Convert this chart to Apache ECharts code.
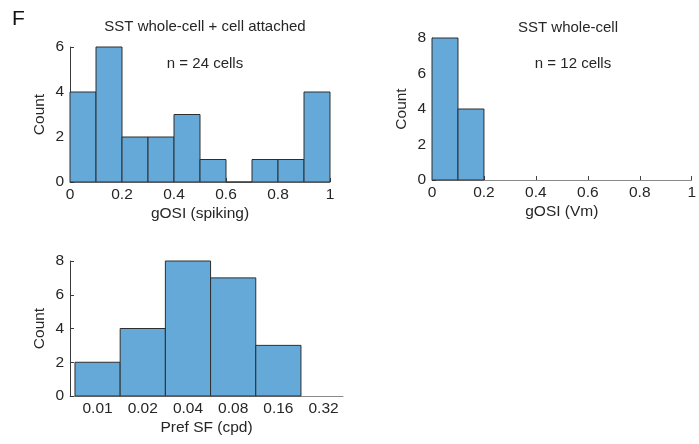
<!DOCTYPE html>
<html>
<head>
<meta charset="utf-8">
<script src="https://cdn.jsdelivr.net/npm/echarts@6/dist/echarts.min.js"></script>
<style>
html,body{margin:0;padding:0;background:#fff;}
#chart{width:699px;height:444px;}
</style>
</head>
<body>
<div id="chart"></div>
<script>
// ---- data ----
const gosiEdges = [0, 0.1, 0.2, 0.3, 0.4, 0.5, 0.6, 0.7, 0.8, 0.9, 1.0];
const spikingCounts = [4, 6, 2, 2, 3, 1, 0, 1, 1, 4];
const vmCounts = [8, 4];
const sfLabels = ['0.01', '0.02', '0.04', '0.08', '0.16', '0.32'];
const sfCounts = [2, 4, 8, 7, 3];

// ---- build histogram data ----
function histData(edges, counts) {
  return counts.map((c, i) => [edges[i], edges[i + 1], c]);
}
const sfData = sfCounts.map((c, i) => [i - 0.5, i + 0.5, c]);

const FONT = 'Liberation Sans, Arial, Helvetica, sans-serif';
const FILL = '#64a9d8';
const EDGE = '#2e2e2e';
const TXT = '#262626';

function renderBar(params, api) {
  const x0 = api.value(0), x1 = api.value(1), y = api.value(2);
  const p0 = api.coord([x0, y]);
  const p1 = api.coord([x1, 0]);
  return {
    type: 'rect',
    shape: { x: p0[0], y: p0[1], width: p1[0] - p0[0], height: p1[1] - p0[1] },
    style: { fill: FILL, stroke: EDGE, lineWidth: 1 }
  };
}

function xAx(idx, name, extra) {
  return Object.assign({
    type: 'value', gridIndex: idx, name: name, nameLocation: 'middle', nameGap: 24,
    nameTextStyle: { fontFamily: FONT, fontSize: 15.5, color: TXT },
    axisLine: { show: true, onZero: false, lineStyle: { color: '#8a8a8a', width: 1 } },
    axisTick: { show: true, inside: true, length: 4, lineStyle: { color: '#444' } },
    axisLabel: { fontFamily: FONT, fontSize: 15.5, color: TXT, margin: 5 },
    splitLine: { show: false }
  }, extra);
}
function yAx(idx, max, nameGap) {
  return {
    type: 'value', gridIndex: idx, min: 0, max: max, interval: 2,
    name: 'Count', nameLocation: 'middle', nameGap: nameGap,
    nameTextStyle: { fontFamily: FONT, fontSize: 15.5, color: TXT },
    axisLine: { show: true, onZero: false, lineStyle: { color: '#3a3a3a', width: 1 } },
    axisTick: { show: true, inside: true, length: 4, lineStyle: { color: '#3a3a3a' } },
    axisLabel: { fontFamily: FONT, fontSize: 15.5, color: TXT, margin: 6 },
    splitLine: { show: false }
  };
}

const chart = echarts.init(document.getElementById('chart'), null, { renderer: 'canvas' });
chart.setOption({
  backgroundColor: '#fff',
  animation: false,
  grid: [
    { left: 70, top: 47, width: 260, height: 135 },
    { left: 432, top: 38, width: 260, height: 142 },
    { left: 70, top: 261, width: 273, height: 135 }
  ],
  xAxis: [
    xAx(0, 'gOSI (spiking)', { min: 0, max: 1, interval: 0.2 }),
    xAx(1, 'gOSI (Vm)', { min: 0, max: 1, interval: 0.2 }),
    xAx(2, 'Pref SF (cpd)', {
      min: -0.61, max: 5.43,
      axisTick: { show: false },
      axisLabel: {
        fontFamily: FONT, fontSize: 15.5, color: TXT, margin: 5,
        customValues: sfLabels.map((_, i) => i),
        formatter: v => sfLabels[Math.round(v)]
      }
    })
  ],
  yAxis: [yAx(0, 6, 22), yAx(1, 8, 22), yAx(2, 8, 22)],
  series: [
    { type: 'custom', xAxisIndex: 0, yAxisIndex: 0, renderItem: renderBar, data: histData(gosiEdges, spikingCounts), encode: { x: [0, 1], y: 2 } },
    { type: 'custom', xAxisIndex: 1, yAxisIndex: 1, renderItem: renderBar, data: histData(gosiEdges, vmCounts), encode: { x: [0, 1], y: 2 } },
    { type: 'custom', xAxisIndex: 2, yAxisIndex: 2, renderItem: renderBar, data: sfData, encode: { x: [0, 1], y: 2 } }
  ],
  graphic: [
    { type: 'text', left: 12, top: 9, style: { text: 'F', font: '21px ' + FONT, fill: '#111' } },
    { type: 'text', x: 205, y: 27, style: { text: 'SST whole-cell + cell attached', font: '15px ' + FONT, fill: TXT, textAlign: 'center', textVerticalAlign: 'middle' } },
    { type: 'text', x: 205, y: 64, style: { text: 'n = 24 cells', font: '15px ' + FONT, fill: TXT, textAlign: 'center', textVerticalAlign: 'middle' } },
    { type: 'text', x: 568, y: 28, style: { text: 'SST whole-cell', font: '15px ' + FONT, fill: TXT, textAlign: 'center', textVerticalAlign: 'middle' } },
    { type: 'text', x: 573, y: 64, style: { text: 'n = 12 cells', font: '15px ' + FONT, fill: TXT, textAlign: 'center', textVerticalAlign: 'middle' } }
  ]
});
</script>
</body>
</html>
